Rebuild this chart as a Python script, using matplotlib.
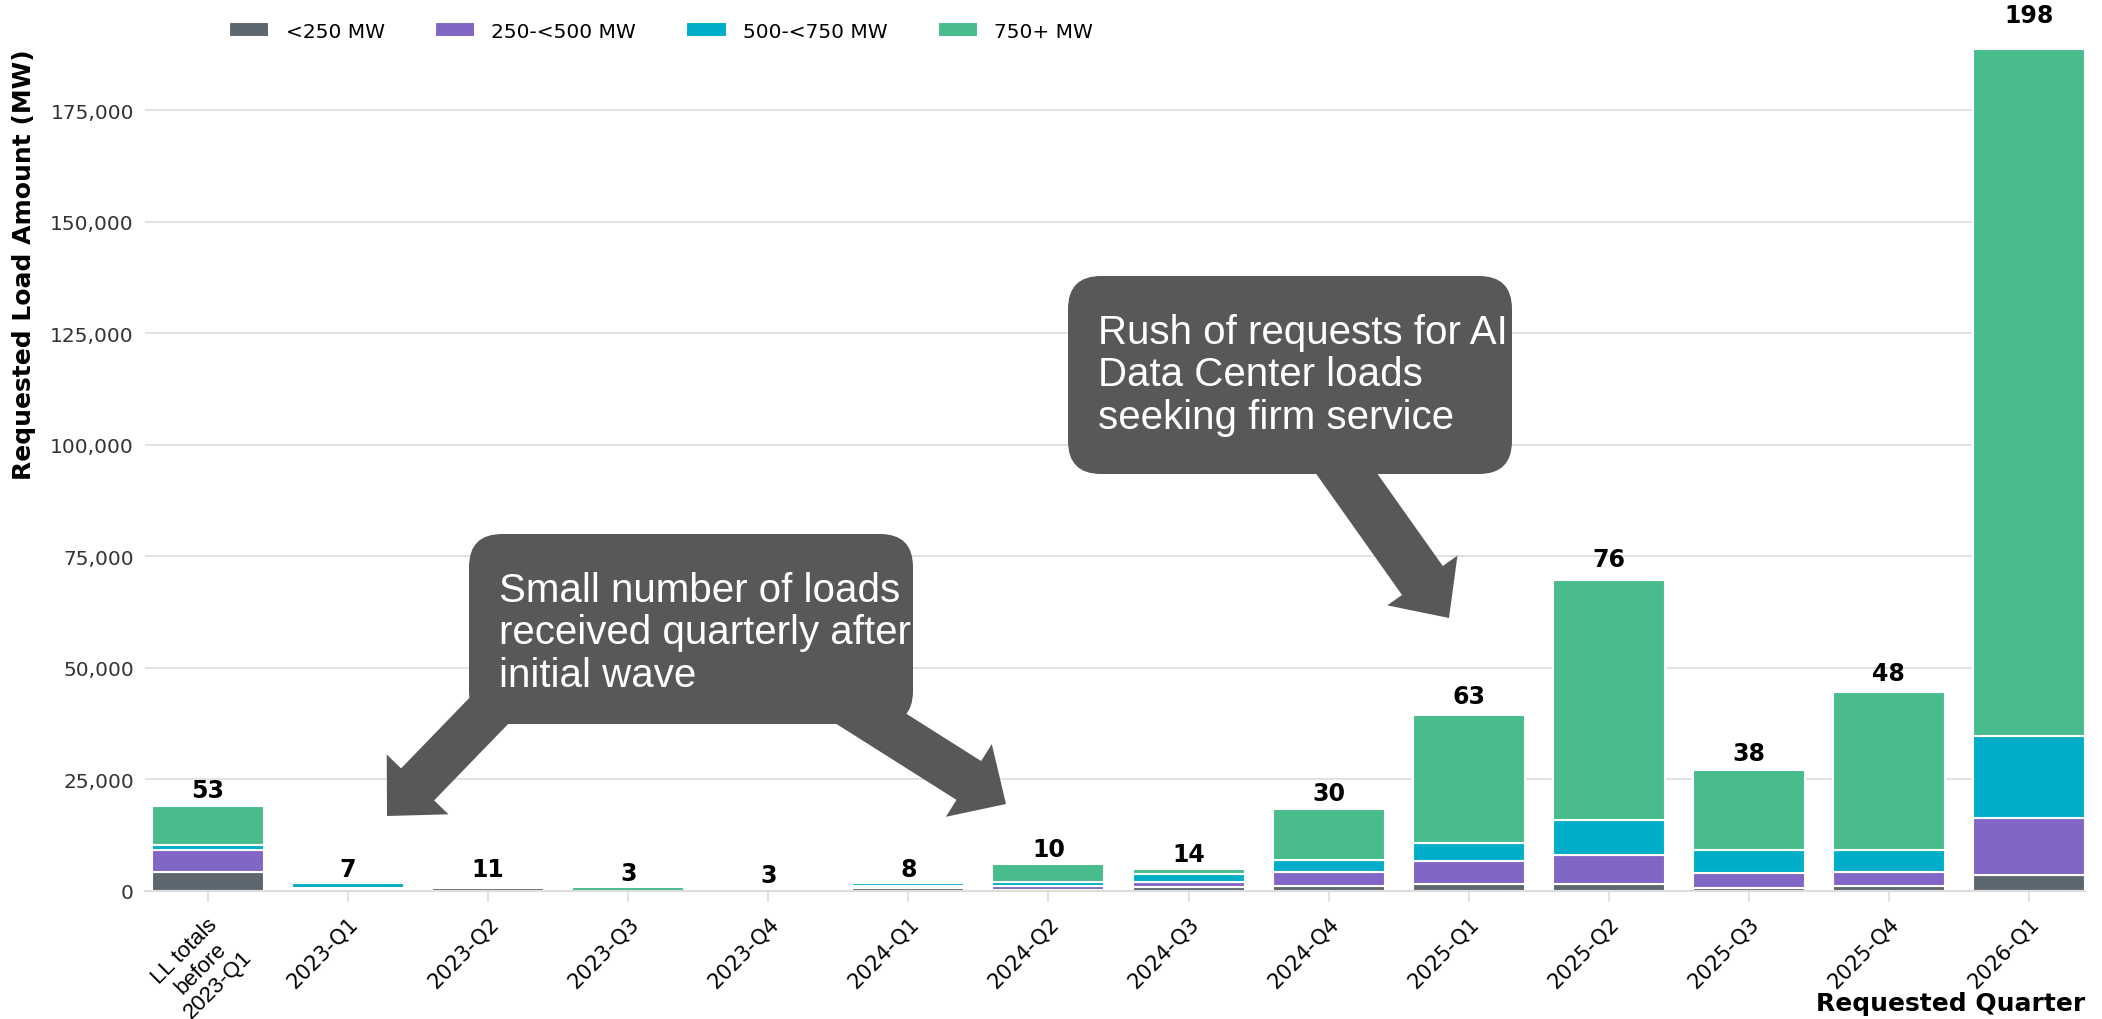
import matplotlib.pyplot as plt
import matplotlib.transforms as mtransforms
import numpy as np
from matplotlib.patches import FancyArrow, FancyBboxPatch

# Requested load (MW) by size class, per quarter
quarters = ["LL totals\nbefore\n2023-Q1", "2023-Q1", "2023-Q2", "2023-Q3", "2023-Q4",
            "2024-Q1", "2024-Q2", "2024-Q3", "2024-Q4", "2025-Q1", "2025-Q2",
            "2025-Q3", "2025-Q4", "2026-Q1"]
lt_250 = [4100, 300, 700, 0, 0, 500, 200, 800, 1000, 1500, 1500, 600, 1000, 3500]
mw_250_500 = [5100, 400, 400, 0, 400, 600, 800, 1200, 3300, 5100, 6500, 3400, 3300, 12900]
mw_500_750 = [1000, 1000, 500, 0, 0, 600, 1000, 1700, 2600, 4000, 7800, 5100, 4800, 18300]
mw_750_plus = [8800, 0, 0, 800, 0, 0, 4000, 1200, 11400, 28900, 53900, 18000, 35500, 154100]
load_counts = [53, 7, 11, 3, 3, 8, 10, 14, 30, 63, 76, 38, 48, 198]

series = [("<250 MW", lt_250, "#5c6770"),
          ("250-<500 MW", mw_250_500, "#8166c6"),
          ("500-<750 MW", mw_500_750, "#00aec9"),
          ("750+ MW", mw_750_plus, "#48bc8b")]

W, H = 2102, 1020
fig = plt.figure(figsize=(W / 100, H / 100), dpi=100)
ax = fig.add_axes([145 / W, 1 - 891.7 / H, (2085 - 145) / W, (891.7 - 49) / H])

x = np.arange(len(quarters))
bottom = np.zeros(len(quarters))
for name, vals, color in series:
    ax.bar(x, vals, width=0.8, bottom=bottom, color=color, edgecolor="white",
           linewidth=1.5, label=name, zorder=2, clip_on=False)
    bottom += np.array(vals)

# count of loads above each stack
for xi, total, n in zip(x, bottom, load_counts):
    ax.text(xi, total * 1.023 + 3200, str(n), ha="center", va="center",
            fontsize=17, fontweight="bold", clip_on=False)

ax.set_xlim(-0.45, len(quarters) - 0.6)
ax.set_ylim(0, 189000)
ax.set_yticks(np.arange(0, 175001, 25000))
ax.yaxis.set_major_formatter(plt.FuncFormatter(lambda v, p: f"{int(v):,}"))
ax.grid(axis="y", color="#dddddd", linewidth=1.2, zorder=0)
ax.set_axisbelow(True)
for side in ["top", "right", "left"]:
    ax.spines[side].set_visible(False)
ax.spines["bottom"].set_color("#dddddd")
ax.spines["bottom"].set_linewidth(1.5)

ax.set_xticks(x)
ax.set_xticklabels(quarters, rotation=45, ha="right", rotation_mode="anchor",
                   multialignment="center", fontsize=15)
first = ax.get_xticklabels()[0]
first.set_family("Liberation Sans")
first.set_fontsize(16)
first.set_linespacing(1.15)
first.set_transform(first.get_transform() +
                    mtransforms.ScaledTranslation(-0.28, 0.06, fig.dpi_scale_trans))
ax.tick_params(axis="x", length=8, color="#dddddd", width=1.2, pad=8)
ax.tick_params(axis="y", length=0, labelsize=14.5, labelcolor="#333333", pad=8)

ax.set_ylabel("Requested Load Amount (MW)", fontsize=18, fontweight="bold",
              loc="top", labelpad=10)
fig.text(2085 / W, 1 - 1004 / H, "Requested Quarter", fontsize=18, fontweight="bold",
         ha="right", va="center")

fig.legend(loc="center left", bbox_to_anchor=(211 / W, 1 - 32 / H), ncol=4,
           frameon=False, fontsize=14.5, handlelength=2.0, handleheight=0.7,
           columnspacing=2.5, handletextpad=0.8)

# Callouts (figure pixel coordinates, y from top)
box_color = "#58585a"
inch = fig.dpi_scale_trans


def px(xp, yp):
    return xp / 100, (H - yp) / 100


def callout(x0, y0, x1, y1, text):
    bx, by = px(x0, y1)
    box = FancyBboxPatch((bx, by), (x1 - x0) / 100, (y1 - y0) / 100,
                         boxstyle="round,pad=0,rounding_size=0.33",
                         transform=inch, facecolor=box_color, edgecolor="none", zorder=6)
    fig.add_artist(box)
    tx, ty = px(x0 + 30, y0 + 37)
    fig.text(tx, ty, text, transform=inch, color="white", fontsize=29,
             family="Liberation Sans", ha="left", va="top", linespacing=1.15, zorder=7)


def arrow(tail, tip, shaft_w, head_w, head_l):
    tx, ty = px(*tail)
    hx, hy = px(*tip)
    a = FancyArrow(tx, ty, hx - tx, hy - ty, width=shaft_w / 100, head_width=head_w / 100,
                   head_length=head_l / 100, length_includes_head=True,
                   transform=inch, facecolor=box_color, edgecolor="none", zorder=5)
    fig.add_artist(a)


arrow((510, 690), (387, 817), 46, 86, 44)
arrow((840, 700), (1006, 805), 46, 86, 44)
arrow((1315, 430), (1449, 619), 50, 86, 46)

callout(469, 535, 913, 725, "Small number of loads\nreceived quarterly after\ninitial wave")
callout(1068, 277, 1512, 475, "Rush of requests for AI\nData Center loads\nseeking firm service")

fig.savefig("out.png", dpi=100)
